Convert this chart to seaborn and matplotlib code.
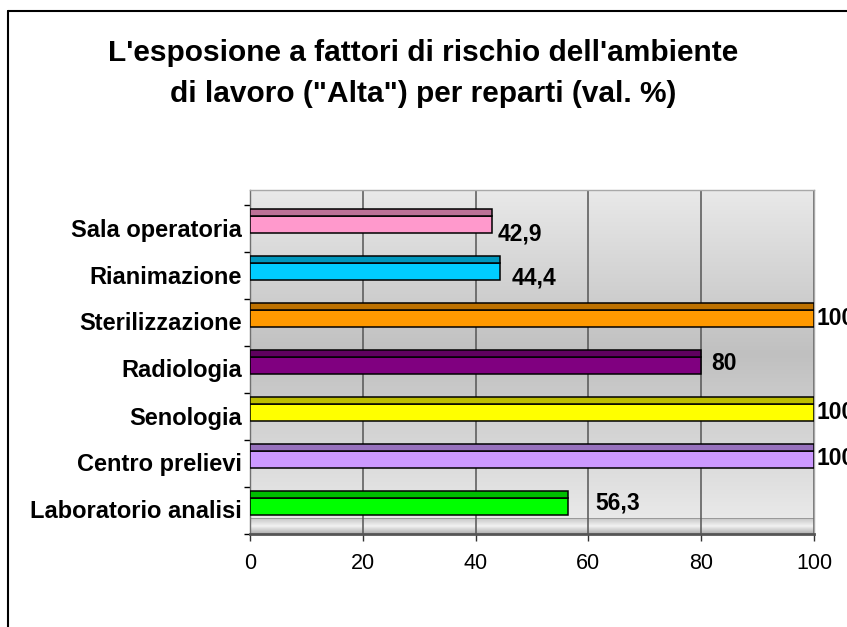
import numpy as np
import matplotlib
matplotlib.use("Agg")
import matplotlib.pyplot as plt
import matplotlib.transforms as mtransforms
import seaborn as sns
import pandas as pd
from matplotlib.patches import Rectangle
from matplotlib.lines import Line2D
from matplotlib.colors import to_rgb

# ---------------- data ----------------
categories = ["Sala operatoria", "Rianimazione", "Sterilizzazione", "Radiologia",
              "Senologia", "Centro prelievi", "Laboratorio analisi"]
values = [42.9, 44.4, 100, 80, 100, 100, 56.3]
value_labels = ["42,9", "44,4", "100", "80", "100", "100", "56,3"]
x_ticks = [0, 20, 40, 60, 80, 100]
title = "L'esposione a fattori di rischio dell'ambiente\ndi lavoro (\"Alta\") per reparti (val. %)"

# ---------------- style ----------------
bar_colors = ["#FF99CC", "#00CCFF", "#FF9900", "#800080", "#FFFF00", "#CC99FF", "#00FF00"]
label_offsets_px = [(6, 10), (11, 6.5), (2, 0), (10, -2), (2, 0), (2, -1), (28, -3.5)]

W, H, DPI = 847, 627, 100
sns.set_theme(style="white")
plt.rcParams["font.family"] = ["Liberation Sans", "DejaVu Sans"]

fig = plt.figure(figsize=(W / DPI, H / DPI), dpi=DPI)
fig.patch.set_facecolor("white")

def fx(px):
    return px / W

def fy(py):
    return 1 - py / H

PX = 72.0 / DPI  # points per pixel

# axes area in pixels
ax_l, ax_r, ax_t, ax_b = 250, 814, 190, 534
ax = fig.add_axes([fx(ax_l), fy(ax_b), (ax_r - ax_l) / W, (ax_b - ax_t) / H])

# background gradient (back wall + floor)
rows = []
wall_bottom = 519
for py in range(ax_t, ax_b + 1):
    if py < wall_bottom:
        d = abs(py - 355) / 164.0
        v = 0xC0 + d * (0xE9 - 0xC0)
    elif py == wall_bottom:
        v = 0x9A
    else:
        t = (py - wall_bottom) / float(ax_b - wall_bottom)
        if t < 0.5:
            v = 0xC8 + (t / 0.5) * (0xF2 - 0xC8)
        else:
            v = 0xF2 - ((t - 0.5) / 0.5) * (0xF2 - 0xB0)
    rows.append(v / 255.0)
grad = np.array(rows)[:, None] * np.ones((1, 4))
img = np.dstack([grad, grad, grad])
ax.imshow(img, extent=[0, 1, 0, 1], transform=ax.transAxes, aspect="auto",
          zorder=0, interpolation="bilinear")

df = pd.DataFrame({"reparto": categories, "valore": values})
sns.barplot(data=df, x="valore", y="reparto", hue="reparto", palette=bar_colors,
            orient="h", width=0.36, saturation=1, edgecolor="black",
            linewidth=1.1, legend=False, ax=ax, zorder=3)

# 3D-like top strip on each bar
strip_h = 7 / 47.0
bars = [p for p in ax.patches if isinstance(p, Rectangle)]
for p in bars:
    idx = int(round(p.get_y() + p.get_height() / 2))
    c = np.array(to_rgb(bar_colors[idx])) * 0.74
    ax.add_patch(Rectangle((p.get_x(), p.get_y() - strip_h), p.get_width(), strip_h,
                           facecolor=c, edgecolor="black", linewidth=1.1, zorder=3))

# limits
ax.set_xlim(0, 100)
ax.set_ylim((ax_b - 224.5) / 47.0, (ax_t - 224.5) / 47.0)
ax.set_aspect("auto")

# grid
ax.set_xticks(x_ticks)
ax.set_xticklabels([str(t) for t in x_ticks])
ax.grid(axis="x", color="#555555", linewidth=1.1, zorder=1)
ax.grid(axis="y", visible=False)
ax.set_axisbelow(True)
for gl in ax.get_xgridlines():
    gl.set_zorder(1)

# y ticks
ax.set_yticks(range(len(categories)))
ax.set_yticklabels(categories)
ax.set_yticks([(205 + 47 * k - 224.5) / 47.0 for k in range(8)], minor=True)
ax.tick_params(axis="y", which="major", length=0, pad=8 * PX,
               labelsize=17, labelcolor="black")
ax.tick_params(axis="y", which="minor", length=6 * PX, width=1.0, color="black",
               direction="out", left=True)
shift_down = mtransforms.ScaledTranslation(0, -3 / DPI, fig.dpi_scale_trans)
for lab in ax.get_yticklabels():
    lab.set_fontweight("bold")
    lab.set_transform(lab.get_transform() + shift_down)

ax.tick_params(axis="x", which="major", length=7 * PX, width=1.0, color="#333333",
               direction="out", bottom=True, pad=12 * PX, labelsize=15.5,
               labelcolor="black")

ax.set_xlabel("")
ax.set_ylabel("")

# spines
for s in ["top", "right"]:
    ax.spines[s].set_color("#a8a8a8")
    ax.spines[s].set_linewidth(1.0)
ax.spines["left"].set_color("#707070")
ax.spines["left"].set_linewidth(1.0)
ax.spines["bottom"].set_color("#555555")
ax.spines["bottom"].set_linewidth(2.0)

# value labels
for p in bars:
    idx = int(round(p.get_y() + p.get_height() / 2))
    dx, dy = label_offsets_px[idx]
    ax.annotate(value_labels[idx], xy=(p.get_x() + p.get_width(), idx),
                xytext=(dx * PX, -dy * PX), textcoords="offset points",
                ha="left", va="center", fontsize=16.5, fontweight="bold",
                color="black", annotation_clip=False, zorder=5)

# title
fig.text(0.5, fy(73.5), title, ha="center", va="center", fontsize=21.5,
         fontweight="bold", color="black", linespacing=1.62)

# chart border (cropped at right and bottom)
fig.add_artist(Line2D([fx(8), fx(8)], [fy(11), 0], color="black", linewidth=1.5,
                      transform=fig.transFigure))
fig.add_artist(Line2D([fx(8), 1], [fy(11), fy(11)], color="black", linewidth=1.5,
                      transform=fig.transFigure))

fig.savefig("out.png", dpi=DPI)
